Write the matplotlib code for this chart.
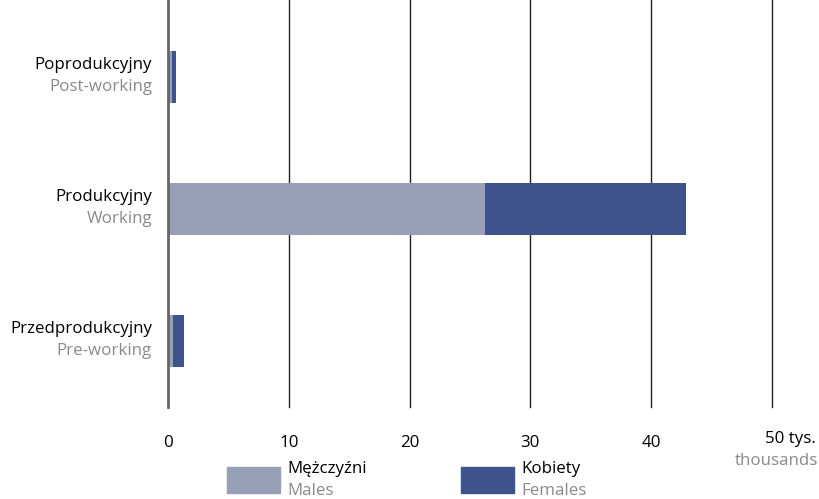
import matplotlib
matplotlib.use("Agg")
import matplotlib.pyplot as plt
from matplotlib.patches import Rectangle

plt.rcParams['font.family'] = ['Open Sans', 'DejaVu Sans']

categories_pl = ["Przedprodukcyjny", "Produkcyjny", "Poprodukcyjny"]
categories_en = ["Pre-working", "Working", "Post-working"]
males = [0.4, 26.25, 0.33]
females = [0.95, 16.65, 0.37]
ticks = [0, 10, 20, 30, 40]
series_pl = ["Mężczyźni", "Kobiety"]
series_en = ["Males", "Females"]

c_m = '#98a0b8'
c_f = '#3e528c'
gray = '#8a8a8a'
FS = 12.2

W, H = 819, 499
fig = plt.figure(figsize=(W/100, H/100), dpi=100)
ax = fig.add_axes([168/W, (H-407)/H, (772-168)/W, 407/H])
ax.set_xlim(0, 50)
ax.set_ylim(-0.5, 2.583)

y = list(range(len(categories_pl)))
ax.barh(y, males, height=0.4, color=c_m, zorder=2)
ax.barh(y, females, left=males, height=0.4, color=c_f, zorder=2)

for s in ax.spines.values():
    s.set_visible(False)
for t in ticks[1:] + [50]:
    ax.axvline(t, color='#222222', lw=1.0, zorder=1, clip_on=False)
ax.axvline(0, color='#666666', lw=2.0, zorder=3, clip_on=False)

ax.set_yticks([])
ax.set_xticks(ticks)
ax.set_xticklabels([str(t) for t in ticks], fontsize=FS)
ax.tick_params(axis='x', length=0, pad=20)

# 50 tys. label
fig.text(816/W, 1-439/H, "50 tys.", fontsize=FS, ha='right', va='center')
fig.text(818/W, 1-461/H, "thousands", fontsize=FS, ha='right', va='center', color=gray)

for i, (pl, en) in enumerate(zip(categories_pl, categories_en)):
    ax.annotate(pl, xy=(0, i), xytext=(-11.5, 8.5), textcoords='offset points',
                ha='right', va='center', fontsize=FS, color='black')
    ax.annotate(en, xy=(0, i), xytext=(-11.5, -7.5), textcoords='offset points',
                ha='right', va='center', fontsize=FS, color=gray)

# legend
for x0, col, pl, en in [(227, c_m, series_pl[0], series_en[0]), (461, c_f, series_pl[1], series_en[1])]:
    fig.patches.append(Rectangle((x0/W, 1-493/H), 53/W, 26/H, transform=fig.transFigure,
                                 color=col, figure=fig))
    fig.text((x0+60)/W, 1-469/H, pl, fontsize=FS, ha='left', va='center')
    fig.text((x0+60)/W, 1-491/H, en, fontsize=FS, ha='left', va='center', color=gray)

fig.savefig("out.png", dpi=100)
